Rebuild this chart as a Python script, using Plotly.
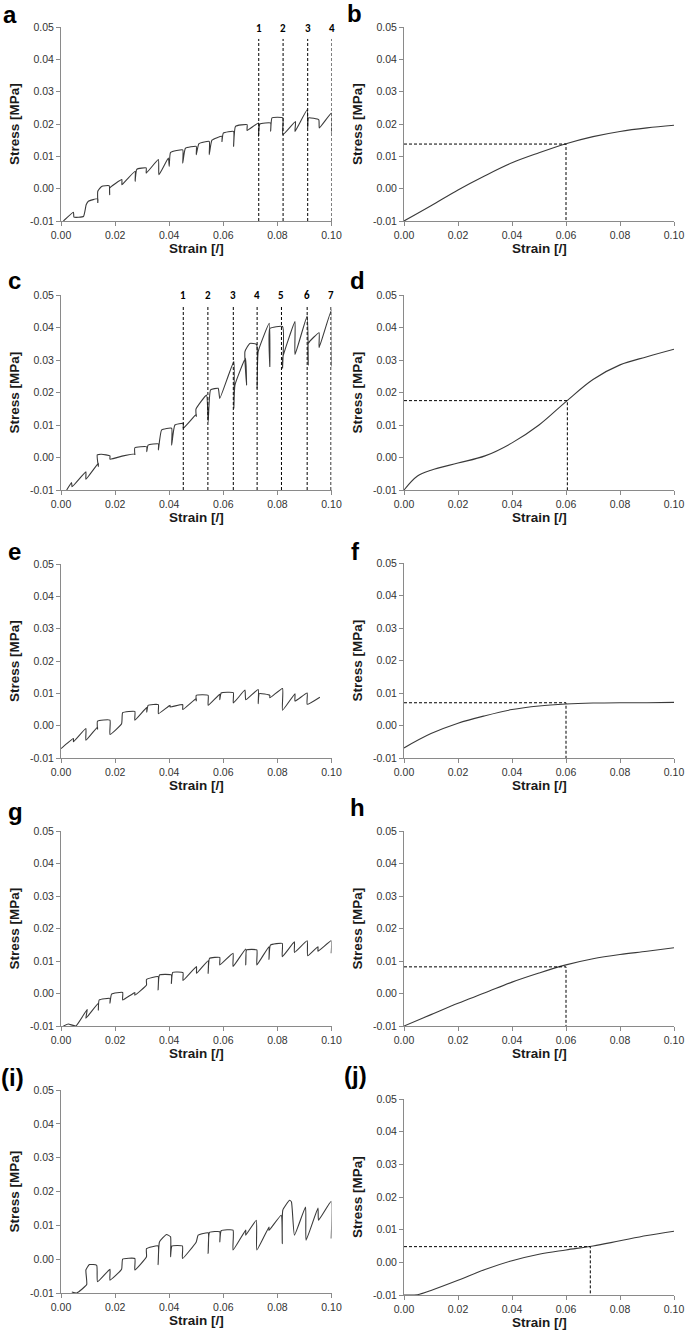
import plotly.graph_objects as go

# ---------------- data ----------------
# Panel a: stepwise stress-relaxation curve (strain, stress)
a_x = [0.0009, 0.0046, 0.0048, 0.0083, 0.0093, 0.0101, 0.0136, 0.0136, 0.0136, 0.0150, 0.0178, 0.0180, 0.0180,
       0.0225, 0.0225, 0.0228, 0.0274, 0.0274, 0.0280, 0.0315, 0.0315, 0.0360, 0.0362, 0.0397, 0.0400, 0.0405,
       0.0450, 0.0450, 0.0460, 0.0500, 0.0500, 0.0510, 0.0548, 0.0548, 0.0558, 0.0595, 0.0595, 0.0600, 0.0638,
       0.0638, 0.0645, 0.0688, 0.0688, 0.0730, 0.0730, 0.0735, 0.0775, 0.0775, 0.0780, 0.0820, 0.0820, 0.0867,
       0.0865, 0.0910, 0.0912, 0.0915, 0.0953, 0.0955, 0.1000, 0.1000]
a_y = [-0.0100, -0.0073, -0.0088, -0.0086, -0.0050, -0.0039, -0.0031, -0.0044, -0.0008, 0.0007, 0.0009, -0.0019, 0.0002,
       0.0028, 0.0012, 0.0014, 0.0054, 0.0023, 0.0060, 0.0064, 0.0048, 0.0090, 0.0043, 0.0095, 0.0069, 0.0112,
       0.0120, 0.0079, 0.0125, 0.0131, 0.0105, 0.0139, 0.0146, 0.0105, 0.0150, 0.0162, 0.0146, 0.0172, 0.0177,
       0.0131, 0.0193, 0.0198, 0.0180, 0.0203, 0.0162, 0.0200, 0.0203, 0.0178, 0.0219, 0.0219, 0.0167, 0.0208,
       0.0177, 0.0244, 0.0188, 0.0219, 0.0213, 0.0188, 0.0234, 0.0172]

# Panel c
c_x = [0.0021, 0.0039, 0.0041, 0.0092, 0.0092, 0.0138, 0.0138, 0.0134, 0.0150, 0.0181, 0.0181, 0.0230, 0.0273,
       0.0273, 0.0273, 0.0317, 0.0317, 0.0322, 0.0360, 0.0360, 0.0372, 0.0409, 0.0409, 0.0421, 0.0452, 0.0452,
       0.0500, 0.0500, 0.0499, 0.0538, 0.0544, 0.0553, 0.0581, 0.0587, 0.0639, 0.0639, 0.0643, 0.0682, 0.0686,
       0.0680, 0.0698, 0.0723, 0.0725, 0.0729, 0.0770, 0.0772, 0.0772, 0.0819, 0.0819, 0.0819, 0.0865, 0.0865,
       0.0910, 0.0914, 0.0914, 0.0954, 0.0954, 0.1000, 0.1000]
c_y = [-0.0100, -0.0077, -0.0090, -0.0044, -0.0067, -0.0018, -0.0028, 0.0008, 0.0010, 0.0005, -0.0005, 0.0005, 0.0011,
       0.0008, 0.0030, 0.0033, 0.0018, 0.0038, 0.0042, 0.0023, 0.0085, 0.0090, 0.0038, 0.0100, 0.0105, 0.0090,
       0.0133, 0.0126, 0.0149, 0.0192, 0.0110, 0.0208, 0.0213, 0.0182, 0.0295, 0.0151, 0.0223, 0.0305, 0.0223,
       0.0326, 0.0351, 0.0348, 0.0213, 0.0326, 0.0413, 0.0280, 0.0397, 0.0403, 0.0274, 0.0305, 0.0418, 0.0317,
       0.0435, 0.0285, 0.0351, 0.0384, 0.0338, 0.0454, 0.0280]

# Panel e
e_x = [0.0000, 0.0046, 0.0046, 0.0092, 0.0092, 0.0135, 0.0135, 0.0135, 0.0181, 0.0181, 0.0224, 0.0228, 0.0273,
       0.0273, 0.0317, 0.0317, 0.0322, 0.0360, 0.0360, 0.0403, 0.0403, 0.0450, 0.0450, 0.0500, 0.0500, 0.0500,
       0.0544, 0.0544, 0.0587, 0.0587, 0.0592, 0.0637, 0.0637, 0.0680, 0.0683, 0.0729, 0.0729, 0.0733, 0.0772,
       0.0772, 0.0819, 0.0819, 0.0865, 0.0865, 0.0910, 0.0910, 0.0957]
e_y = [-0.0071, -0.0040, -0.0050, -0.0009, -0.0045, -0.0004, -0.0012, 0.0014, 0.0017, -0.0027, 0.0006, 0.0040, 0.0044,
       0.0017, 0.0056, 0.0042, 0.0063, 0.0065, 0.0037, 0.0063, 0.0058, 0.0065, 0.0050, 0.0084, 0.0076, 0.0094,
       0.0094, 0.0063, 0.0097, 0.0080, 0.0101, 0.0102, 0.0070, 0.0110, 0.0080, 0.0112, 0.0068, 0.0099, 0.0094,
       0.0086, 0.0115, 0.0048, 0.0099, 0.0076, 0.0101, 0.0066, 0.0088]

# Panel g
g_x = [0.0009, 0.0027, 0.0055, 0.0097, 0.0092, 0.0138, 0.0138, 0.0141, 0.0181, 0.0181, 0.0187, 0.0228, 0.0228,
       0.0273, 0.0273, 0.0316, 0.0316, 0.0359, 0.0359, 0.0364, 0.0408, 0.0408, 0.0413, 0.0451, 0.0451, 0.0501,
       0.0501, 0.0544, 0.0544, 0.0549, 0.0587, 0.0587, 0.0636, 0.0636, 0.0683, 0.0683, 0.0686, 0.0724, 0.0724,
       0.0769, 0.0769, 0.0774, 0.0818, 0.0818, 0.0863, 0.0863, 0.0910, 0.0912, 0.0950, 0.0950, 0.0999, 0.0999]
g_y = [-0.0100, -0.0094, -0.0100, -0.0049, -0.0076, -0.0030, -0.0051, -0.0020, -0.0015, -0.0030, -0.0002, 0.0003, -0.0020,
       0.0003, -0.0005, 0.0026, 0.0043, 0.0052, 0.0011, 0.0057, 0.0057, 0.0031, 0.0065, 0.0064, 0.0040, 0.0083,
       0.0062, 0.0101, 0.0062, 0.0108, 0.0111, 0.0088, 0.0124, 0.0083, 0.0137, 0.0088, 0.0134, 0.0134, 0.0088,
       0.0144, 0.0105, 0.0149, 0.0154, 0.0113, 0.0159, 0.0126, 0.0162, 0.0116, 0.0144, 0.0130, 0.0162, 0.0124]

# Panel i
i_x = [0.0040, 0.0058, 0.0095, 0.0092, 0.0105, 0.0132, 0.0135, 0.0181, 0.0181, 0.0224, 0.0228, 0.0273, 0.0273,
       0.0316, 0.0316, 0.0359, 0.0359, 0.0364, 0.0390, 0.0405, 0.0405, 0.0410, 0.0449, 0.0449, 0.0500, 0.0507,
       0.0544, 0.0544, 0.0549, 0.0587, 0.0587, 0.0592, 0.0636, 0.0636, 0.0683, 0.0683, 0.0722, 0.0724, 0.0769,
       0.0769, 0.0814, 0.0818, 0.0820, 0.0845, 0.0852, 0.0863, 0.0904, 0.0906, 0.0950, 0.0952, 0.0999, 0.0999]
i_y = [-0.0097, -0.0100, -0.0075, -0.0032, -0.0016, -0.0018, -0.0067, -0.0030, -0.0062, -0.0030, 0.0000, 0.0002, -0.0032,
       0.0007, 0.0031, 0.0039, -0.0016, 0.0051, 0.0073, 0.0066, 0.0007, 0.0039, 0.0039, 0.0002, 0.0051, 0.0071,
       0.0078, 0.0017, 0.0079, 0.0081, 0.0051, 0.0084, 0.0086, 0.0027, 0.0086, 0.0071, 0.0115, 0.0027, 0.0095,
       0.0085, 0.0130, 0.0046, 0.0145, 0.0174, 0.0169, 0.0071, 0.0154, 0.0056, 0.0151, 0.0115, 0.0171, 0.0061]

# Fitted curves (right column)
fit_x = [0.00, 0.01, 0.02, 0.03, 0.04, 0.05, 0.06, 0.07, 0.08, 0.09, 0.10]
b_y = [-0.0100, -0.0053, -0.0004, 0.0040, 0.0080, 0.0111, 0.0139, 0.0161, 0.0177, 0.0188, 0.0196]
d_x = [0.000, 0.005, 0.010, 0.020, 0.030, 0.040, 0.050, 0.060, 0.070, 0.080, 0.090, 0.100]
d_y = [-0.0100, -0.0057, -0.0039, -0.0017, 0.0005, 0.0045, 0.0100, 0.0172, 0.0240, 0.0285, 0.0310, 0.0333]
f_y = [-0.0069, -0.0025, 0.0007, 0.0030, 0.0049, 0.0060, 0.0066, 0.0069, 0.0070, 0.0070, 0.0071]
h_y = [-0.0100, -0.0065, -0.0030, 0.0002, 0.0035, 0.0063, 0.0088, 0.0107, 0.0120, 0.0130, 0.0141]
j_x = [0.000, 0.005, 0.010, 0.020, 0.030, 0.040, 0.050, 0.060, 0.070, 0.080, 0.090, 0.100]
j_y = [-0.0100, -0.0099, -0.0086, -0.0055, -0.0022, 0.0005, 0.0025, 0.0038, 0.0050, 0.0066, 0.0082, 0.0095]

# reading points (dashed guides) for fits: (strain, stress)
b_mark = (0.060, 0.0138)
d_mark = (0.0605, 0.0175)
f_mark = (0.060, 0.0070)
h_mark = (0.060, 0.0082)
j_mark = (0.069, 0.0048)

# numbered dashed lines
a_lines = [0.0731, 0.0821, 0.0912, 0.1000]
a_labels = ["1", "2", "3", "4"]
a_line_top = 0.0463
c_lines = [0.0452, 0.0543, 0.0637, 0.0725, 0.0815, 0.0910, 0.0998]
c_labels = ["1", "2", "3", "4", "5", "6", "7"]
c_line_top = 0.0467

x_ticks = [0.00, 0.02, 0.04, 0.06, 0.08, 0.10]
x_ticktext = ["0.00", "0.02", "0.04", "0.06", "0.08", "0.10"]
y_ticks = [-0.01, 0.00, 0.01, 0.02, 0.03, 0.04, 0.05]
y_ticktext = ["-0.01", "0.00", "0.01", "0.02", "0.03", "0.04", "0.05"]

panel_letters = ["a", "b", "c", "d", "e", "f", "g", "h", "(i)", "(j)"]

# ---------------- figure ----------------
W, H = 685, 1337
fig = go.Figure()

LEFT = (61, 331.5)
RIGHT = (404, 674)
rows_left = [(27, 221), (295, 490), (564, 758), (831, 1026), (1090, 1293)]
rows_right = [(27, 221), (295, 490), (563, 758), (831, 1026), (1099, 1295)]

LINE_COL = "#3a3a3a"
AX_COL = "#8a8a8a"
TICK_FONT = dict(family="Arial, Liberation Sans", size=10.5, color="#333333")
TITLE_FONT = dict(family="Arial, Liberation Sans", size=13.5, color="#1a1a1a")

curves = {
    1: (a_x, a_y), 3: (c_x, c_y), 5: (e_x, e_y), 7: (g_x, g_y), 9: (i_x, i_y),
    2: (fit_x, b_y), 4: (d_x, d_y), 6: (fit_x, f_y), 8: (fit_x, h_y), 10: (j_x, j_y),
}
marks = {2: b_mark, 4: d_mark, 6: f_mark, 8: h_mark, 10: j_mark}

annotations = []
label_pos = {  # (x px, y px center) for panel letters
    1: (10, 14), 2: (354, 13), 3: (14, 280), 4: (357, 280), 5: (14, 551),
    6: (355, 551), 7: (15, 811), 8: (357, 807), 9: (12, 1077), 10: (355, 1075),
}

for k in range(1, 11):
    row = (k - 1) // 2
    left = (k % 2 == 1)
    xd = LEFT if left else RIGHT
    yd = rows_left[row] if left else rows_right[row]
    xa = "xaxis" if k == 1 else f"xaxis{k}"
    ya = "yaxis" if k == 1 else f"yaxis{k}"
    xr = "x" if k == 1 else f"x{k}"
    yr = "y" if k == 1 else f"y{k}"
    fig.update_layout(**{
        xa: dict(domain=[xd[0] / W, xd[1] / W], anchor=yr, range=[0, 0.1],
                 tickvals=x_ticks, ticktext=x_ticktext, showline=True, linecolor=AX_COL,
                 linewidth=1, ticks="outside", ticklen=4, tickcolor=AX_COL,
                 showgrid=False, zeroline=False, tickfont=TICK_FONT, fixedrange=True,
                 automargin=False),
        ya: dict(domain=[1 - yd[1] / H, 1 - yd[0] / H], anchor=xr, range=[-0.01, 0.05],
                 tickvals=y_ticks, ticktext=y_ticktext, showline=True, linecolor=AX_COL,
                 linewidth=1, ticks="outside", ticklen=4, tickcolor=AX_COL,
                 showgrid=False, zeroline=False, tickfont=TICK_FONT, fixedrange=True,
                 automargin=False),
    })
    cx, cy = curves[k]
    fig.add_trace(go.Scatter(x=cx, y=cy, mode="lines", xaxis=xr, yaxis=yr,
                             line=dict(color=LINE_COL, width=1.1, shape="spline",
                                       smoothing=1.0 if not left else 0.4),
                             showlegend=False, hoverinfo="skip"))
    if k in marks:
        mx, my = marks[k]
        fig.add_trace(go.Scatter(x=[0, mx, mx], y=[my, my, -0.01], mode="lines",
                                 xaxis=xr, yaxis=yr,
                                 line=dict(color="black", width=1, dash="3px,2px"),
                                 showlegend=False, hoverinfo="skip"))
    # axis titles
    cxp = (xd[0] + xd[1]) / 2
    annotations.append(dict(text="<b>Strain [/]</b>", x=cxp / W, y=1 - (yd[1] + 27) / H,
                            xref="paper", yref="paper", showarrow=False,
                            font=TITLE_FONT, xanchor="center", yanchor="middle"))
    annotations.append(dict(text="<b>Stress [MPa]</b>", x=(14 if left else 357) / W,
                            y=1 - ((yd[0] + yd[1]) / 2) / H, xref="paper", yref="paper",
                            showarrow=False, textangle=-90, font=TITLE_FONT,
                            xanchor="center", yanchor="middle"))
    lp = label_pos[k]
    annotations.append(dict(text=f"<b>{panel_letters[k - 1]}</b>", x=lp[0] / W, y=1 - lp[1] / H,
                            xref="paper", yref="paper", showarrow=False,
                            font=dict(family="Arial, Liberation Sans", size=24, color="black"),
                            xanchor="center", yanchor="middle"))

# numbered dashed lines in panels a and c
for lines, labels, top, xr, yr in [(a_lines, a_labels, a_line_top, "x", "y"),
                                   (c_lines, c_labels, c_line_top, "x3", "y3")]:
    for xv, lab in zip(lines, labels):
        fig.add_trace(go.Scatter(x=[xv, xv], y=[-0.01, top], mode="lines", xaxis=xr, yaxis=yr,
                                 line=dict(color="black", width=1, dash="3px,2px"),
                                 showlegend=False, hoverinfo="skip", cliponaxis=False))
        annotations.append(dict(text=f"<b>{lab}</b>", x=xv, y=top + 0.0033, xref=xr, yref=yr,
                                showarrow=False,
                                font=dict(family="Carlito, Liberation Sans, Arial", size=11, color="black"),
                                xanchor="center", yanchor="middle"))

fig.update_layout(template="none", width=W, height=H, margin=dict(l=0, r=0, t=0, b=0, autoexpand=False),
                  paper_bgcolor="white", plot_bgcolor="white",
                  annotations=annotations, showlegend=False)

fig.write_html("out.html", config={"displayModeBar": False},
               post_script="document.body.style.margin='0';document.body.style.overflow='hidden';")
